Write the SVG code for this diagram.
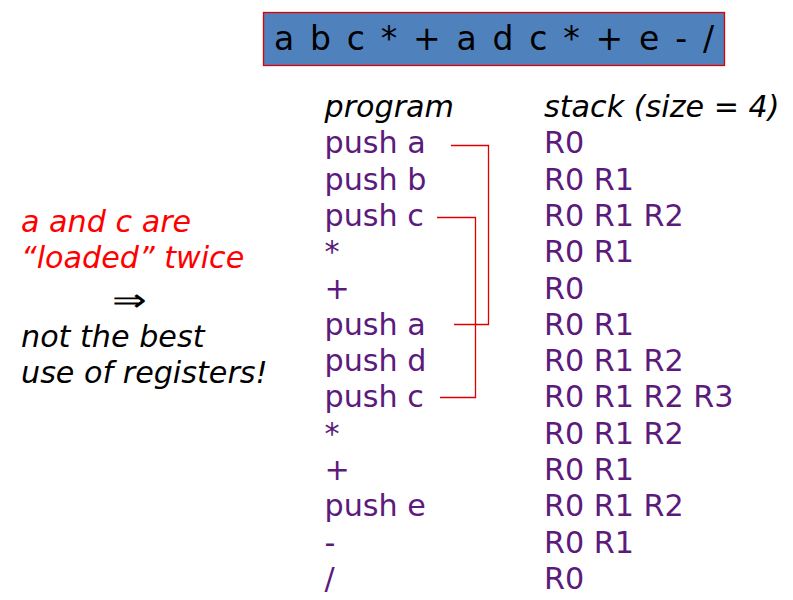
<svg xmlns="http://www.w3.org/2000/svg" width="793" height="600" viewBox="0 0 793 600">
<style>
text{font-family:"DejaVu Sans","Noto Sans",sans-serif;font-size:30.2px}
.p{fill:#5C1A7C}
.k{fill:#000}
.i{font-style:italic}
.r{fill:#FF0000}
.ln{fill:none;stroke:#E00000;stroke-width:1.3}
</style>
<rect width="793" height="600" fill="#fff"/>
<g id="expr">
<rect x="263.5" y="12.5" width="461" height="53" fill="#4F81BD" stroke="#E00000" stroke-width="1.3"/>
<text x="274" y="50" class="k" style="font-size:33px" textLength="440">a b c * + a d c * + e - /</text>
</g>
<g id="program">
<text x="324.5" y="116.7" class="k i">program</text>
<text x="324.5" y="153.3" class="p">push a</text>
<text x="324.5" y="189.6" class="p">push b</text>
<text x="324.5" y="225.9" class="p">push c</text>
<text x="324.5" y="262.2" class="p">*</text>
<text x="324.5" y="298.5" class="p">+</text>
<text x="324.5" y="334.8" class="p">push a</text>
<text x="324.5" y="371.1" class="p">push d</text>
<text x="324.5" y="407.4" class="p">push c</text>
<text x="324.5" y="443.7" class="p">*</text>
<text x="324.5" y="480" class="p">+</text>
<text x="324.5" y="516.3" class="p">push e</text>
<text x="324.5" y="552.6" class="p">-</text>
<text x="324.5" y="588.9" class="p">/</text>
</g>
<g id="stack">
<text x="544" y="116.7" class="k i">stack (size = 4)</text>
<text x="544" y="153.3" class="p">R0</text>
<text x="544" y="189.6" class="p">R0 R1</text>
<text x="544" y="225.9" class="p">R0 R1 R2</text>
<text x="544" y="262.2" class="p">R0 R1</text>
<text x="544" y="298.5" class="p">R0</text>
<text x="544" y="334.8" class="p">R0 R1</text>
<text x="544" y="371.1" class="p">R0 R1 R2</text>
<text x="544" y="407.4" class="p">R0 R1 R2 R3</text>
<text x="544" y="443.7" class="p">R0 R1 R2</text>
<text x="544" y="480" class="p">R0 R1</text>
<text x="544" y="516.3" class="p">R0 R1 R2</text>
<text x="544" y="552.6" class="p">R0 R1</text>
<text x="544" y="588.9" class="p">R0</text>
</g>
<g id="note">
<text x="21" y="232" class="r i">a and c are</text>
<text x="21" y="267.5" class="r i">“loaded” twice</text>
<text x="112" y="311" class="k" style="font-size:32px;font-weight:200" textLength="35" lengthAdjust="spacingAndGlyphs">⇒</text>
<text x="21" y="347" class="k i">not the best</text>
<text x="21" y="383" class="k i">use of registers!</text>
</g>
<g id="connectors">
<polyline class="ln" points="451,145.5 488.5,145.5 488.5,324.5 454,324.5"/>
<polyline class="ln" points="437,217.5 475.5,217.5 475.5,397.5 440,397.5"/>
</g>
</svg>
